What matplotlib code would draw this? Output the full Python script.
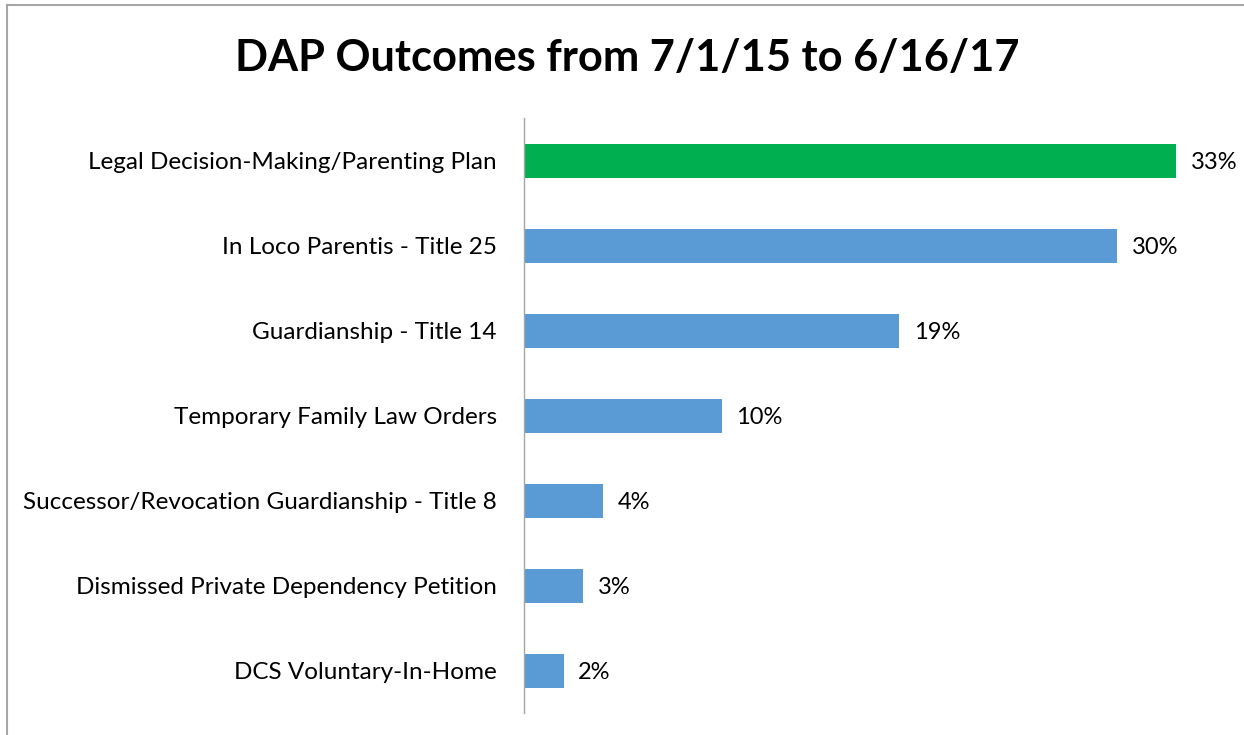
import matplotlib
matplotlib.use("Agg")
import matplotlib.pyplot as plt
from matplotlib.lines import Line2D

categories = ["Legal Decision-Making/Parenting Plan", "In Loco Parentis - Title 25",
              "Guardianship - Title 14", "Temporary Family Law Orders",
              "Successor/Revocation Guardianship - Title 8",
              "Dismissed Private Dependency Petition", "DCS Voluntary-In-Home"]
values = [33, 30, 19, 10, 4, 3, 2]
colors = ["#00B050"] + ["#5B9BD5"] * 6
title = "DAP Outcomes from 7/1/15 to 6/16/17"

W, H = 1244, 735
fig = plt.figure(figsize=(W / 100, H / 100), dpi=100)
plt.rcParams['font.family'] = ['Lato', 'DejaVu Sans']

ax_left, ax_right, ax_top, ax_bot = 524, 1230, 118, 713
ax = fig.add_axes([ax_left / W, 1 - ax_bot / H, (ax_right - ax_left) / W, (ax_bot - ax_top) / H])
px_per = (1176 - 524) / 33.0
xmax = (ax_right - ax_left) / px_per

ypos = list(range(len(categories)))
ax.barh(ypos, values, height=0.4, color=colors)
ax.set_ylim(len(categories) - 0.5, -0.5)
ax.set_xlim(0, xmax)
for y, v in zip(ypos, values):
    ax.text(v + 0.75, y, f"{v}%", va="center_baseline", ha="left", fontsize=17, color="#000000")
ax.set_yticks(ypos)
ax.set_yticklabels(categories, fontsize=17.5, va="center_baseline")
ax.tick_params(axis="y", length=0, pad=19.5)
ax.set_xticks([])
for s in ["top", "right", "bottom"]:
    ax.spines[s].set_visible(False)
ax.spines["left"].set_color("#A6A6A6")
ax.spines["left"].set_linewidth(1)

fig.text(627 / W, 1 - 58 / H, title, ha="center", va="center", fontsize=31.2, fontweight="bold")

# chart border (left and top edges)
fig.add_artist(Line2D([7 / W, 7 / W], [0, 1 - 5 / H], transform=fig.transFigure, color="#A6A6A6", lw=1.5))
fig.add_artist(Line2D([7 / W, 1], [1 - 5 / H, 1 - 5 / H], transform=fig.transFigure, color="#A6A6A6", lw=1.5))

fig.savefig("out.png", dpi=100)
